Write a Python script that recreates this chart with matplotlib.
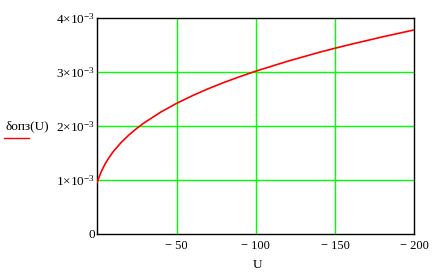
import matplotlib
matplotlib.use("Agg")
import matplotlib.pyplot as plt

plt.rcParams['font.family'] = ['Liberation Serif', 'DejaVu Serif']
plt.rcParams['mathtext.fontset'] = 'custom'
plt.rcParams['mathtext.rm'] = 'Liberation Serif'
plt.rcParams['mathtext.it'] = 'Liberation Serif'

U = [0, -0.5, -1, -2, -3, -5, -7, -10, -15, -20, -25, -30, -40, -50, -60, -70,
     -80, -90, -100, -120, -140, -150, -160, -180, -200]
delta = [0.957e-3, 1.004e-3, 1.046e-3, 1.121e-3, 1.188e-3, 1.303e-3, 1.400e-3,
         1.525e-3, 1.696e-3, 1.838e-3, 1.961e-3, 2.070e-3, 2.260e-3, 2.422e-3,
         2.565e-3, 2.694e-3, 2.811e-3, 2.919e-3, 3.020e-3, 3.203e-3, 3.369e-3,
         3.445e-3, 3.518e-3, 3.656e-3, 3.785e-3]

xticks = [-50, -100, -150, -200]
xticklabels = ['\u2212 50', '\u2212 100', '\u2212 150', '\u2212 200']
yticks = [0, 1e-3, 2e-3, 3e-3, 4e-3]
yticklabels = ['0', r'$1{\times}10^{-3}$', r'$2{\times}10^{-3}$',
               r'$3{\times}10^{-3}$', r'$4{\times}10^{-3}$']

fig = plt.figure(figsize=(4.36, 2.73), dpi=100)
ax = fig.add_axes([97.3/436, (273-234)/273, (414.3-97.3)/436, (234-18.3)/273])

green = '#00ff00'
for x in xticks[:-1]:
    ax.axvline(x, color=green, lw=1.0, zorder=1)
for y in yticks[1:-1]:
    ax.axhline(y, color=green, lw=1.0, zorder=1)

ax.plot(U, delta, color='#ff0000', lw=1.2, zorder=3)

ax.set_xlim(0, -200)
ax.set_ylim(0, 4e-3)
ax.set_xticks(xticks)
ax.set_xticklabels(xticklabels, fontsize=9)
ax.set_yticks(yticks)
ax.set_yticklabels(yticklabels, fontsize=9.5)
ax.tick_params(axis='x', length=0, pad=4)
ax.tick_params(axis='y', length=0, pad=1.5)
for s in ax.spines.values():
    s.set_color('black')
    s.set_linewidth(1.0)

fig.text(257/436, 1 - 265/273, 'U', ha='center', va='center', fontsize=9.5)
fig.text(27.5/436, 1 - 126/273, '\u03b4опз(U)', ha='center', va='center', fontsize=9.5)
fig.add_artist(plt.Line2D([4/436, 29/436], [1 - 137.5/273, 1 - 137.5/273],
                          color='#ff0000', lw=1.0, transform=fig.transFigure))

fig.savefig('out.png', dpi=100)
